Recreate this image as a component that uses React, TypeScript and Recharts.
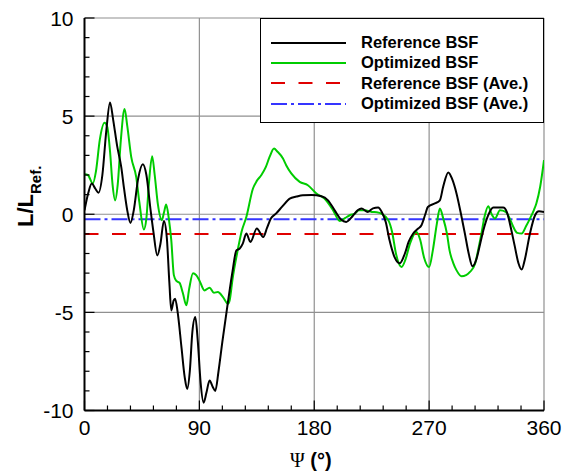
import React from 'react';
import { ComposedChart, Line, XAxis, YAxis, ReferenceLine, Legend, Customized } from 'recharts';

// ---- data ----
const refAngles = [0, 3, 5.7, 8.5, 11, 14, 17, 20, 22.5, 25.6, 28.8, 31, 33.5, 36, 38.6, 42, 45.7, 48.5, 51.8, 54, 57, 59.5, 62.2, 64.5, 66.5, 68, 69.8, 71, 73, 76, 78.5, 80.5, 82.5, 84.5, 86.8, 88.8, 91, 93.3, 95.5, 98, 100.5, 102.5, 105, 108, 112.4, 116, 119, 121.6, 124, 126.8, 130, 135, 140, 143, 146, 150, 155, 160.8, 166, 171, 178, 185.6, 190.8, 196, 201, 205, 210, 214, 217, 222, 226, 230, 233, 236, 239, 243, 247, 251, 254, 257.5, 261, 264, 267, 269, 274.5, 278.4, 281, 285, 288, 291.5, 295, 298, 301, 304, 307, 310, 312.5, 316, 320.3, 328, 331, 333.3, 337, 340, 342.5, 345, 349, 353, 356, 360];
const refValues = [0.2, 1.1, 1.57, 1.3, 1.1, 2.0, 4.2, 5.7, 4.8, 3.47, 2.4, 1.3, 0.2, -0.44, 0.2, 1.8, 2.55, 2.0, 0.2, -0.9, -2.1, -1.5, -0.34, -1.2, -3.5, -4.9, -4.4, -4.3, -5.0, -6.8, -8.3, -8.9, -8.0, -6.0, -5.24, -6.5, -8.6, -9.6, -9.1, -8.47, -8.8, -9.0, -8.0, -6.5, -4.47, -2.9, -1.84, -1.75, -1.5, -0.98, -1.41, -0.73, -1.16, -0.7, -0.22, 0.03, 0.4, 0.8, 0.9, 0.97, 0.98, 0.92, 0.71, 0.2, -0.27, -0.39, -0.1, 0.2, 0.29, 0.12, 0.3, 0.34, 0.1, -0.4, -1.33, -2.2, -2.5, -2.0, -1.4, -0.98, -0.75, -0.56, 0.0, 0.37, 0.55, 0.71, 1.4, 2.13, 1.8, 1.05, 0.0, -0.98, -2.0, -2.65, -2.3, -1.5, -0.82, -0.1, 0.34, 0.34, 0.1, -0.48, -1.6, -2.5, -2.82, -2.3, -0.98, -0.05, 0.15, 0.12];

const optAngles = [0, 2.6, 6.5, 9, 12, 15.7, 17.8, 20, 22, 24, 26, 28.5, 31.4, 33.5, 36.6, 40.5, 43, 46.5, 48.5, 50.5, 53, 55, 57.5, 60.6, 62.3, 64, 66, 68, 70, 72, 74.5, 77, 79.8, 82, 85, 87.5, 90, 94, 98, 101.4, 104.5, 108.5, 112.4, 113.7, 116, 120, 123, 126.8, 132, 135, 138.6, 142, 145, 148.5, 151, 155.5, 158, 162, 168.6, 175, 181.7, 188, 194.8, 200, 204, 207.8, 211.8, 215, 219.6, 225, 229, 232.7, 238, 241, 244, 248.4, 251.5, 255, 260, 263, 266, 270, 273, 276, 278.4, 281, 284, 286, 289, 291.5, 295.4, 299, 302, 306, 308.5, 311, 313.5, 316.3, 319, 321.6, 325.5, 330, 333, 336, 339, 342.5, 346, 349, 352, 354, 357, 360];
const optValues = [2.04, 2.0, 1.57, 2.2, 3.8, 4.66, 4.46, 3.2, 1.5, 0.71, 1.5, 3.8, 5.36, 4.5, 2.92, 1.9, 0.6, -0.78, -0.2, 1.6, 2.96, 2.0, 0.5, -0.3, 0.1, 0.5, -0.2, -1.33, -3.1, -3.4, -3.5, -4.0, -4.64, -3.8, -3.0, -3.1, -3.37, -3.88, -3.74, -4.0, -3.96, -4.22, -4.56, -4.4, -3.3, -1.84, -0.9, -0.14, 1.31, 1.7, 2.0, 2.4, 2.92, 3.35, 3.2, 2.84, 2.5, 2.08, 1.65, 1.48, 1.06, 0.8, 0.2, -0.34, -0.2, -0.05, 0.03, 0.2, 0.2, 0.12, 0.1, 0.03, -0.3, -0.9, -2.0, -2.69, -2.3, -1.5, -0.9, -1.3, -2.2, -2.69, -1.8, -0.5, 0.29, -0.2, -1.0, -1.84, -2.5, -2.86, -3.16, -3.1, -2.94, -2.52, -1.8, -0.98, -0.1, 0.41, 0.0, -0.22, 0.2, 0.12, -0.2, -0.65, -0.95, -0.98, -0.6, -0.22, 0.2, 0.55, 1.4, 2.76];

const aveAngles = [0, 360];
const refAveValue = -1.0;
const optAveValue = -0.25;

const seriesNames = ['Reference BSF', 'Optimized BSF', 'Reference BSF (Ave.)', 'Optimized BSF (Ave.)'];
const seriesColors = ['#000000', '#00cc00', '#e00000', '#3535ff'];
const seriesDash = ['', '', '14 13.5', '16 4 3 4'];

const xTicks = [0, 18, 36, 54, 72, 90, 108, 126, 144, 162, 180, 198, 216, 234, 252, 270, 288, 306, 324, 342, 360];
const xLabelTicks = [0, 90, 180, 270, 360];
const yTicks = [-10, -9, -8, -7, -6, -5, -4, -3, -2, -1, 0, 1, 2, 3, 4, 5, 6, 7, 8, 9, 10];
const yLabelTicks = [-10, -5, 0, 5, 10];
const xGrid = [90, 180, 270, 360];
const yGrid = [-5, 0, 5, 10];

const refData = refAngles.map((a, i) => ({ psi: a, value: refValues[i] }));
const optData = optAngles.map((a, i) => ({ psi: a, value: optValues[i] }));
const refAveData = aveAngles.map((a) => ({ psi: a, value: refAveValue }));
const optAveData = aveAngles.map((a) => ({ psi: a, value: optAveValue }));

const SANS = '"Liberation Sans", Arial, sans-serif';
const TICK_FONT = 21;

const XTick = (props: any) => {
  const { x, y, payload } = props;
  const major = xLabelTicks.includes(payload.value);
  return (
    <g>
      <line x1={x} x2={x} y1={y} y2={y - (major ? 10 : 5)} stroke="#000" strokeWidth={1.2} />
      {major && (
        <text x={x} y={y + 24.5} textAnchor="middle" fontFamily={SANS} fontSize={TICK_FONT} fill="#000">
          {payload.value}
        </text>
      )}
    </g>
  );
};

const YTick = (props: any) => {
  const { x, y, payload } = props;
  const major = yLabelTicks.includes(payload.value);
  return (
    <g>
      <line x1={x} x2={x + (major ? 10 : 5)} y1={y} y2={y} stroke="#000" strokeWidth={1.2} />
      {major && (
        <text x={x - 11} y={y + 7.5} textAnchor="end" fontFamily={SANS} fontSize={TICK_FONT} fill="#000">
          {payload.value}
        </text>
      )}
    </g>
  );
};

const LegendBox = () => (
  <div
    style={{
      position: 'relative',
      width: 284,
      height: 105,
      boxSizing: 'border-box',
      border: '1.5px solid #000',
      background: '#fff',
      fontFamily: SANS,
    }}
  >
    {seriesNames.map((name, i) => (
      <div
        key={name}
        style={{
          position: 'absolute',
          left: 0,
          top: 14 + i * 20.4,
          height: 20,
          width: 282,
          display: 'flex',
          alignItems: 'center',
        }}
      >
        <svg width={100} height={20} style={{ display: 'block' }}>
          <line
            x1={10}
            x2={85}
            y1={10}
            y2={10}
            stroke={seriesColors[i]}
            strokeWidth={2}
            strokeDasharray={seriesDash[i] || undefined}
          />
        </svg>
        <span style={{ fontWeight: 'bold', fontSize: 16.5, color: '#000', whiteSpace: 'nowrap' }}>{name}</span>
      </div>
    ))}
  </div>
);

const Titles = () => (
  <g>
    <text x={282} y={459} fontSize={20} fill="#000">
      <tspan fontFamily='"Liberation Serif", "Times New Roman", serif'>Ψ</tspan>
      <tspan fontFamily={SANS} fontWeight="bold"> (°)</tspan>
    </text>
    <text transform="translate(25,219) rotate(-90)" x={0} y={0} fontFamily={SANS} fontWeight="bold" fill="#000">
      <tspan fontSize={22}>L/L</tspan>
      <tspan fontSize={15} dy={8}>Ref.</tspan>
    </text>
  </g>
);

export default function App() {
  return (
    <ComposedChart
      width={563}
      height={468}
      margin={{ top: 10, right: 27, bottom: 35.5, left: 36.5 }}
      style={{ fontFamily: SANS }}
    >
      <XAxis
        type="number"
        dataKey="psi"
        domain={[0, 360]}
        ticks={xTicks}
        interval={0}
        allowDataOverflow
        height={30}
        tickSize={0}
        tickMargin={0}
        tickLine={false}
        axisLine={{ stroke: '#000', strokeWidth: 2 }}
        tick={<XTick />}
      />
      <YAxis
        type="number"
        dataKey="value"
        domain={[-10, 10]}
        ticks={yTicks}
        interval={0}
        allowDataOverflow
        width={40}
        tickSize={0}
        tickMargin={0}
        tickLine={false}
        axisLine={{ stroke: '#000', strokeWidth: 2 }}
        tick={<YTick />}
      />
      {xGrid.map((v) => (
        <ReferenceLine key={'gx' + v} x={v} stroke="#909090" strokeWidth={1.2} />
      ))}
      {yGrid.map((v) => (
        <ReferenceLine key={'gy' + v} y={v} stroke="#909090" strokeWidth={1.2} />
      ))}
      <Line
        data={refAveData}
        dataKey="value"
        name={seriesNames[2]}
        stroke={seriesColors[2]}
        strokeWidth={2}
        strokeDasharray={seriesDash[2]}
        dot={false}
        activeDot={false}
        isAnimationActive={false}
        type="linear"
      />
      <Line
        data={optAveData}
        dataKey="value"
        name={seriesNames[3]}
        stroke={seriesColors[3]}
        strokeWidth={2}
        strokeDasharray={seriesDash[3]}
        dot={false}
        activeDot={false}
        isAnimationActive={false}
        type="linear"
      />
      <Line
        data={optData}
        dataKey="value"
        name={seriesNames[1]}
        stroke={seriesColors[1]}
        strokeWidth={2}
        dot={false}
        activeDot={false}
        isAnimationActive={false}
        type="monotone"
      />
      <Line
        data={refData}
        dataKey="value"
        name={seriesNames[0]}
        stroke={seriesColors[0]}
        strokeWidth={2}
        dot={false}
        activeDot={false}
        isAnimationActive={false}
        type="monotone"
      />
      <Legend
        layout="vertical"
        align="center"
        verticalAlign="middle"
        wrapperStyle={{ position: 'absolute', left: 252, top: 9.5, width: 284, height: 105 }}
        content={() => <LegendBox />}
      />
      <Customized component={Titles} />
    </ComposedChart>
  );
}
